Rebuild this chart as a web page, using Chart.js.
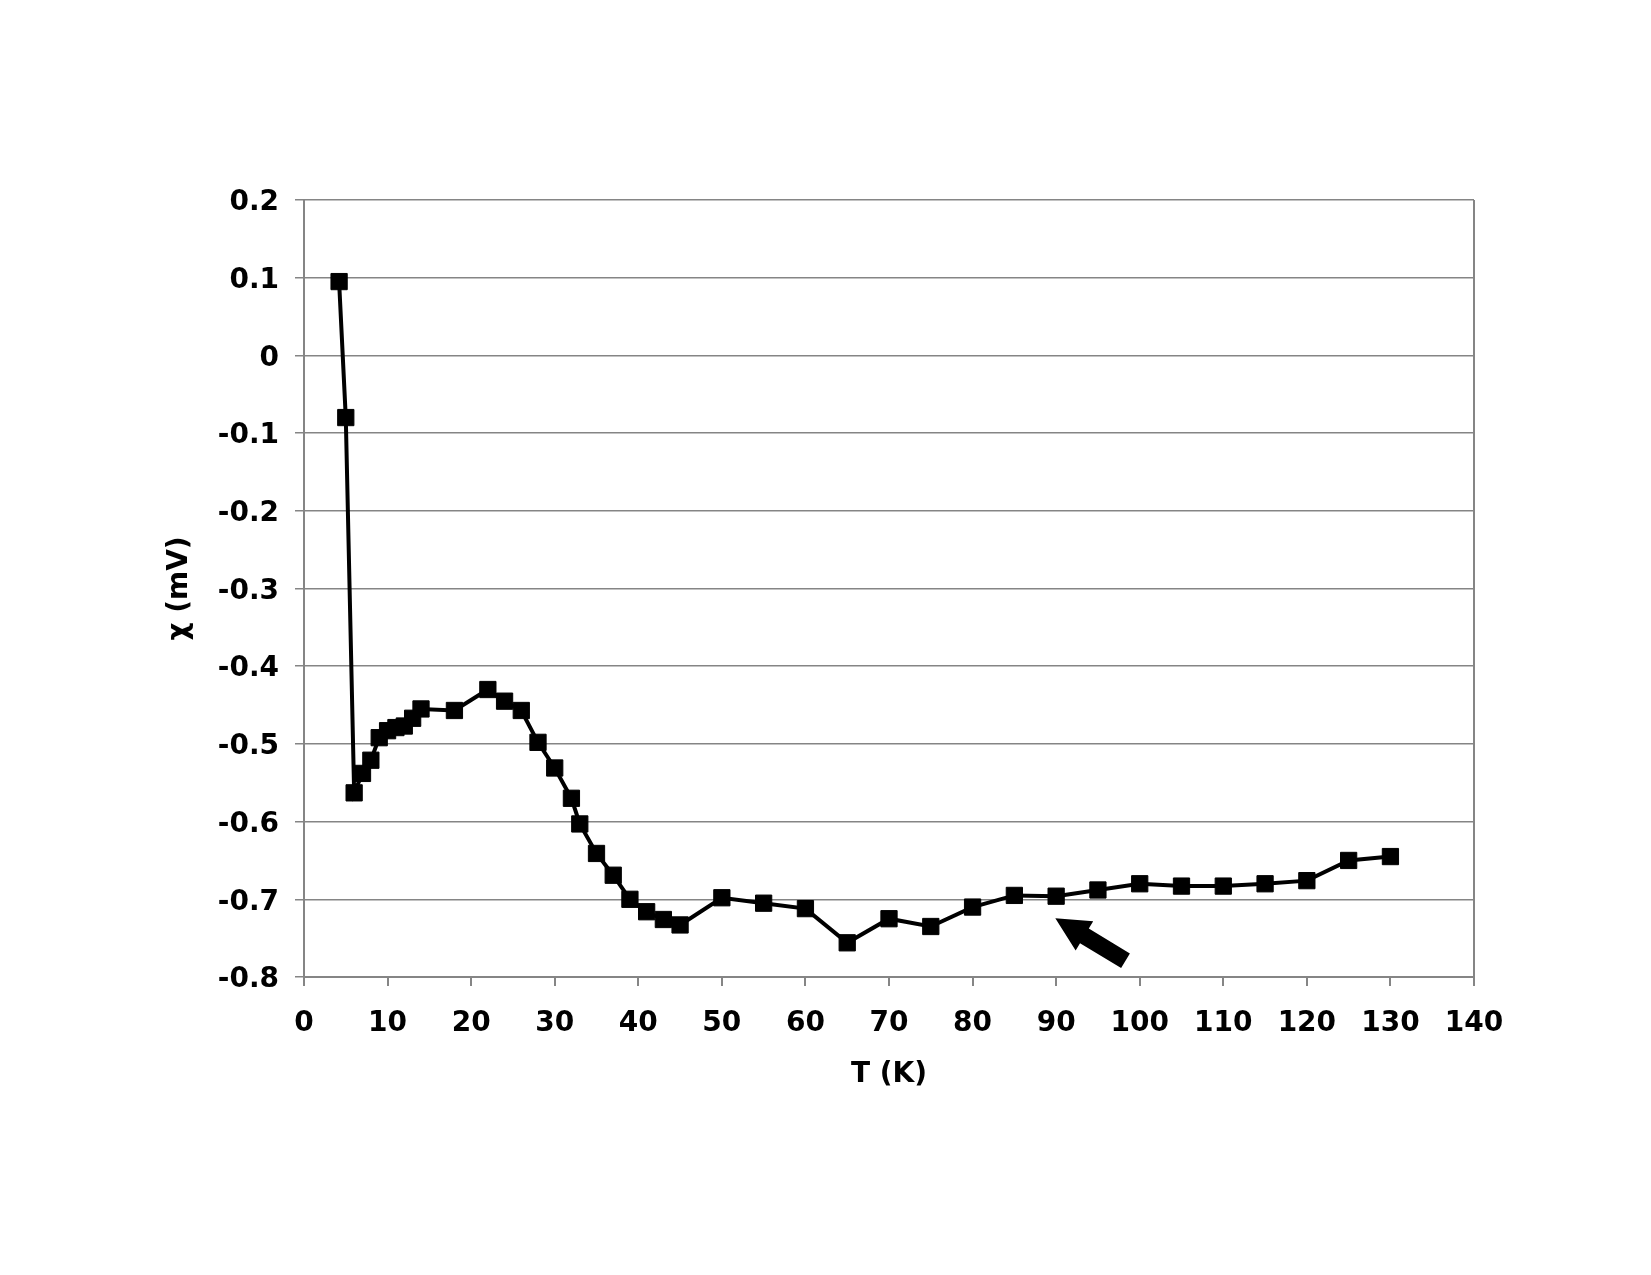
<!DOCTYPE html>
<html>
<head>
<meta charset="utf-8">
<script src="https://cdn.jsdelivr.net/npm/chart.js@4/dist/chart.umd.min.js"></script>
<style>
  html, body { margin: 0; padding: 0; background: #fff; }
  #wrap { width: 1651px; height: 1275px; }
</style>
</head>
<body>
<div id="wrap"><canvas id="chart" width="1651" height="1275"></canvas></div>
<script>
// temperature (K) and signal (mV)
const temps = [4.2, 5, 6, 7, 8, 9, 10, 11, 12, 13, 14, 18, 22, 24, 26, 28, 30, 32, 33, 35, 37, 39, 41, 43, 45,
  50, 55, 60, 65, 70, 75, 80, 85, 90, 95, 100, 105, 110, 115, 120, 125, 130];
const chi = [0.095, -0.08, -0.563, -0.538, -0.521, -0.492, -0.483, -0.479, -0.477, -0.467, -0.455, -0.457,
  -0.430, -0.445, -0.457, -0.498, -0.531, -0.570, -0.603, -0.641, -0.669, -0.700, -0.716, -0.726, -0.733,
  -0.698, -0.705, -0.712, -0.756, -0.725, -0.735, -0.710, -0.695, -0.696, -0.688, -0.680, -0.683, -0.683,
  -0.680, -0.676, -0.650, -0.645];

// arrow annotation: [tail, tip] in data units
const arrowTail = [98.3, -0.779];
const arrowTip = [89.9, -0.7245];

const GRID = "#858585";
const font = { family: "'DejaVu Sans', Verdana, sans-serif", size: 28, weight: "bold" };

const arrowPlugin = {
  id: "arrow",
  afterDatasetsDraw(chart) {
    const { ctx, scales: { x, y } } = chart;
    const x0 = x.getPixelForValue(arrowTail[0]), y0 = y.getPixelForValue(arrowTail[1]);
    const x1 = x.getPixelForValue(arrowTip[0]), y1 = y.getPixelForValue(arrowTip[1]);
    const len = Math.hypot(x1 - x0, y1 - y0);
    const ux = (x1 - x0) / len, uy = (y1 - y0) / len;
    const px = -uy, py = ux;
    const shaft = 8.5, head = 17, headLen = 34;
    const bx = x1 - ux * headLen, by = y1 - uy * headLen;
    ctx.save();
    ctx.fillStyle = "#000";
    ctx.beginPath();
    ctx.moveTo(x0 + px * shaft, y0 + py * shaft);
    ctx.lineTo(bx + px * shaft, by + py * shaft);
    ctx.lineTo(bx + px * head, by + py * head);
    ctx.lineTo(x1, y1);
    ctx.lineTo(bx - px * head, by - py * head);
    ctx.lineTo(bx - px * shaft, by - py * shaft);
    ctx.lineTo(x0 - px * shaft, y0 - py * shaft);
    ctx.closePath();
    ctx.fill();
    ctx.restore();
  }
};

new Chart(document.getElementById("chart"), {
  type: "line",
  data: {
    datasets: [{
      data: temps.map((t, i) => ({ x: t, y: chi[i] })),
      borderColor: "#000",
      borderWidth: 4,
      backgroundColor: "#000",
      pointStyle: "rect",
      pointRadius: 11.5,
      pointBorderWidth: 1,
      pointBorderColor: "#000",
      pointBackgroundColor: "#000",
      tension: 0,
    }],
  },
  options: {
    responsive: false,
    animation: false,
    layout: { padding: { left: 150, right: 177, top: 200, bottom: 178 } },
    plugins: { legend: { display: false }, tooltip: { enabled: false } },
    scales: {
      x: {
        type: "linear",
        min: 0, max: 140,
        afterFit: s => { s.height = 120; },
        ticks: { stepSize: 10, color: "#000", font, padding: 21, maxRotation: 0 },
        grid: {
          color: c => (c.tick && c.tick.value === 140 ? GRID : "transparent"),
          tickColor: GRID, tickLength: 9, lineWidth: 2,
        },
        border: { color: GRID, width: 2 },
        title: { display: true, text: "T (K)", color: "#000", font, padding: { top: 0, bottom: 5 } },
      },
      y: {
        min: -0.8, max: 0.2,
        afterFit: s => { s.width = 154; },
        ticks: { stepSize: 0.1, color: "#000", font, padding: 16, labelOffset: 3 },
        grid: { color: GRID, tickColor: GRID, tickLength: 9, lineWidth: 1.5 },
        border: { color: GRID, width: 2 },
        title: { display: true, text: "χ (mV)", color: "#000", font, padding: { top: 13, bottom: 0 } },
      },
    },
  },
  plugins: [arrowPlugin],
});
</script>
</body>
</html>
